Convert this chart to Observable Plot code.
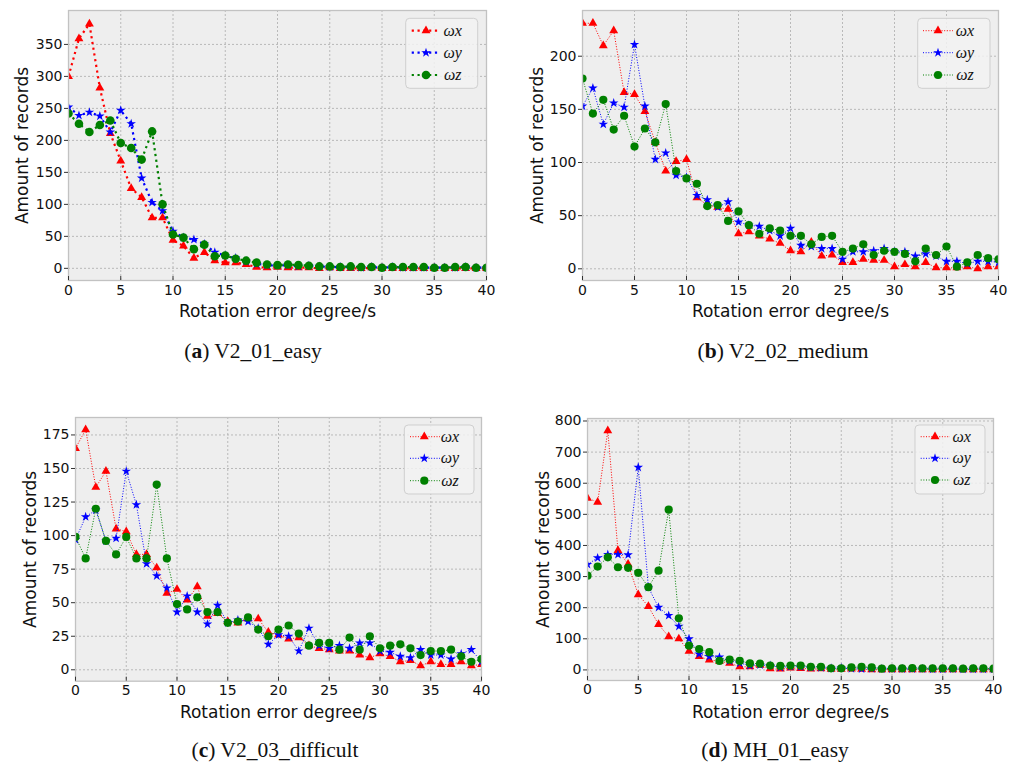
<!DOCTYPE html>
<html><head><meta charset="utf-8">
<script src="https://cdn.jsdelivr.net/npm/d3@7"></script>
<script src="https://cdn.jsdelivr.net/npm/@observablehq/plot@0.6"></script>
<style>
html,body{margin:0;padding:0;background:#fff;}
#root{position:relative;width:1018px;height:764px;overflow:hidden;background:#fff;}
.panel{position:absolute;}
.cap{position:absolute;font-family:"Liberation Serif","DejaVu Serif",serif;font-size:21.5px;color:#111;white-space:nowrap;transform:translate(-50%,-50%);}
</style></head><body><div id="root"></div>
<script>
const degrees = [0,1,2,3,4,5,6,7,8,9,10,11,12,13,14,15,16,17,18,19,20,21,22,23,24,25,26,27,28,29,30,31,32,33,34,35,36,37,38,39,40];
const xTicks = [0,5,10,15,20,25,30,35,40];
const seriesNames = ["ωx","ωy","ωz"];
const seriesColors = ["#ff0000","#0000ff","#008000"];
const seriesSymbols = ["triangle","star","circle"];

// (a) V2_01_easy
const a_wx = [300,359,382,282,211,168,125,111,79,79,44,35,16,25,12,9,9,6,2,1,2,1,1,1,0,1,0,0,0,1,0,0,0,0,0,0,0,0,0,0,0];
const a_wy = [252,239,244,238,213,247,226,141,103,90,58,48,45,38,25,20,16,11,7,5,4,5,3,4,3,2,2,2,1,2,1,2,1,1,1,1,1,1,2,1,1];
const a_wz = [242,226,213,224,231,196,188,170,214,100,53,48,30,37,19,20,15,12,9,6,5,6,5,4,3,3,2,3,2,2,1,2,2,2,2,1,1,2,2,1,1];
const a_yTicks = [0,50,100,150,200,250,300,350];
// (b) V2_02_medium
const b_wx = [231,231,210,224,166,164,148,119,92,101,103,67,60,58,56,33,35,31,28,24,17,16,25,12,13,6,6,9,8,8,2,4,2,6,1,1,1,2,0,2,2];
const b_wy = [153,170,136,156,152,211,153,103,109,88,86,69,65,58,63,44,41,40,36,31,38,22,21,19,19,9,16,16,17,19,16,16,12,14,12,7,7,5,7,7,6];
const b_wz = [179,146,159,131,144,115,132,119,155,92,85,80,59,60,45,54,41,33,38,36,31,31,23,30,31,16,19,23,13,17,16,14,7,19,13,21,2,6,13,10,9];
const b_yTicks = [0,50,100,150,200];
// (c) V2_03_difficult
const c_wx = [165,179,136,148,105,103,86,86,76,57,60,52,62,40,42,36,35,38,38,28,26,23,24,18,16,15,14,14,11,9,12,10,6,7,3,6,4,4,6,3,4];
const c_wy = [97,114,119,96,98,148,123,79,70,61,43,55,43,34,48,35,37,36,31,19,26,25,14,31,18,16,18,16,20,20,14,13,10,9,15,11,11,8,12,15,6];
const c_wz = [99,83,120,96,86,99,83,83,138,83,49,45,54,43,43,35,36,39,30,25,30,33,27,18,20,20,15,24,15,25,16,18,19,16,11,14,14,15,10,6,8];
const c_yTicks = [0,25,50,75,100,125,150,175];
// (d) MH_01_easy
const d_wx = [552,539,769,384,340,242,204,146,107,100,60,43,32,28,22,10,10,15,4,3,6,5,3,4,2,2,3,2,1,1,1,1,1,1,1,1,1,1,1,1,1];
const d_wy = [339,360,371,371,370,651,265,201,175,140,100,51,43,41,29,22,14,16,14,8,11,10,8,7,5,6,4,3,4,3,3,3,3,3,2,2,3,2,2,2,2];
const d_wz = [303,332,362,330,328,312,266,319,515,166,78,67,57,29,33,29,21,20,14,13,14,14,10,10,5,5,8,10,8,4,5,5,6,5,5,5,5,4,5,5,4];
const d_yTicks = [0,100,200,300,400,500,600,700,800];

const xLabel = "Rotation error degree/s";
const yLabel = "Amount of records";
const captions = [
  {id:"a", name:"V2_01_easy"},
  {id:"b", name:"V2_02_medium"},
  {id:"c", name:"V2_03_difficult"},
  {id:"d", name:"MH_01_easy"}
];

const font = "'DejaVu Sans', sans-serif";

const panels = [
  {left:0, top:0, mL:68, mR:23, mT:10, mB:50, domain:[-19,403], yTicks:a_yTicks, series:[a_wx,a_wy,a_wz],
   lw:2.2, dash:"2.2,3.6", r:[3.3,3.0,4.3], tickPad:8.5, xLabelDy:31, yLabelDx:-46,
   legend:{x0:405.7,y0:18.3,x1:477.7,y1:88.3,rows:[30.7,52.7,75],lx1:411.7,lx2:440,mx:426,tx:452.7},
   cap:{x:253,y:351}},
  {left:509, top:0, mL:73, mR:20, mT:10, mB:50, domain:[-11,243], yTicks:b_yTicks, series:[b_wx,b_wy,b_wz],
   lw:1, dash:"1,1.65", r:[3.3,3.0,4.1], tickPad:8.5, xLabelDy:31, yLabelDx:-45,
   legend:{x0:917.7,y0:18.3,x1:990,y1:88.3,rows:[30.7,52.7,75],lx1:923,lx2:953,mx:938,tx:965},
   cap:{x:783,y:351}},
  {left:0, top:385, mL:75, mR:28, mT:32, mB:34.3, domain:[-8.5,188], yTicks:c_yTicks, series:[c_wx,c_wy,c_wz],
   lw:1, dash:"1,1.65", r:[3.3,3.0,4.1], tickPad:8, xLabelDy:31, yLabelDx:-45,
   legend:{x0:404.3,y0:425,x1:474,y1:494,rows:[436.7,458.3,480.7],lx1:410,lx2:440,mx:424.3,tx:450},
   cap:{x:275,y:750}},
  {left:509, top:385, mL:78, mR:25, mT:33, mB:35, domain:[-34,808], yTicks:d_yTicks, series:[d_wx,d_wy,d_wz],
   lw:1, dash:"1,1.65", r:[3.3,3.0,4.1], tickPad:8, xLabelDy:32, yLabelDx:-44,
   legend:{x0:915,y0:425,x1:985,y1:494,rows:[436.7,458.3,480],lx1:920.7,lx2:950,mx:935,tx:961.7},
   cap:{x:775,y:750}}
];

const root = document.getElementById("root");
const W = 509, H = 330;

panels.forEach((cfg, pi) => {
  const marks = [
    Plot.frame({fill:"#eeeeee", stroke:null}),
    Plot.gridX({ticks:xTicks, stroke:"#b2b2b2", strokeOpacity:1, strokeWidth:0.9, strokeDasharray:"2,2"}),
    Plot.gridY({ticks:cfg.yTicks, stroke:"#b2b2b2", strokeOpacity:1, strokeWidth:0.9, strokeDasharray:"2,2"})
  ];
  cfg.series.forEach((vals, si) => {
    const d = vals.map((v, i) => ({deg: degrees[i], n: v}));
    marks.push(Plot.line(d, {x:"deg", y:"n", stroke:seriesColors[si], strokeWidth:cfg.lw, strokeDasharray:cfg.dash, strokeLinecap:"butt", clip:true}));
    marks.push(Plot.dot(d, {x:"deg", y:"n", symbol:seriesSymbols[si], r:cfg.r[si], fill:seriesColors[si], stroke:"none", clip:true}));
  });
  marks.push(Plot.frame({stroke:"#c2c2c2", strokeWidth:1.3}));
  marks.push(Plot.axisX({ticks:xTicks, tickSize:-4, tickPadding:cfg.tickPad, label:null, fontSize:14, stroke:"#333"}));
  marks.push(Plot.axisY({ticks:cfg.yTicks, tickSize:4, tickPadding:2, label:null, fontSize:14, stroke:"#333"}));
  marks.push(Plot.text([xLabel], {frameAnchor:"bottom", dy:cfg.xLabelDy, text:d=>d, fontSize:17, textAnchor:"middle", lineAnchor:"middle", fill:"#111"}));
  marks.push(Plot.text([yLabel], {frameAnchor:"left", dx:cfg.yLabelDx, rotate:-90, text:d=>d, fontSize:17, textAnchor:"middle", lineAnchor:"middle", fill:"#111"}));

  const chart = Plot.plot({
    width:W, height:H,
    marginLeft:cfg.mL, marginRight:cfg.mR, marginTop:cfg.mT, marginBottom:cfg.mB,
    x:{domain:[0,40]},
    y:{domain:cfg.domain},
    style:{fontFamily:font, fontSize:"14px", color:"#111", background:"transparent", overflow:"visible"},
    marks
  });
  const wrap = document.createElement("div");
  wrap.className = "panel";
  wrap.style.left = cfg.left + "px";
  wrap.style.top = cfg.top + "px";
  wrap.appendChild(chart);
  root.appendChild(wrap);

  // legend
  const L = cfg.legend;
  const svg = d3.select(chart);
  const g = svg.append("g").attr("transform", `translate(${-cfg.left},${-cfg.top})`);
  g.append("rect").attr("x", L.x0).attr("y", L.y0).attr("width", L.x1 - L.x0).attr("height", L.y1 - L.y0)
    .attr("rx", 4).attr("fill", "#f2f2f2").attr("fill-opacity", 0.85).attr("stroke", "#cfcfcf").attr("stroke-width", 1);
  seriesNames.forEach((name, si) => {
    const y = L.rows[si];
    g.append("line").attr("x1", L.lx1).attr("x2", L.lx2).attr("y1", y).attr("y2", y)
      .attr("stroke", seriesColors[si]).attr("stroke-width", cfg.lw).attr("stroke-dasharray", cfg.dash);
    const symName = "symbol" + seriesSymbols[si][0].toUpperCase() + seriesSymbols[si].slice(1);
    const r = cfg.r[si];
    g.append("path").attr("d", d3.symbol(d3[symName], Math.PI * r * r)()).attr("transform", `translate(${L.mx},${y})`).attr("fill", seriesColors[si]);
    g.append("text").attr("x", L.tx).attr("y", y).attr("dy", "0.32em").attr("font-family", "'Liberation Serif','DejaVu Serif',serif")
      .attr("font-style", "italic").attr("font-size", 16).attr("fill", "#111").text(name);
  });

  // caption
  const c = captions[pi];
  const cap = document.createElement("div");
  cap.className = "cap";
  cap.style.left = cfg.cap.x + "px";
  cap.style.top = cfg.cap.y + "px";
  cap.innerHTML = `(<b>${c.id}</b>) ${c.name}`;
  root.appendChild(cap);
});
</script></body></html>
